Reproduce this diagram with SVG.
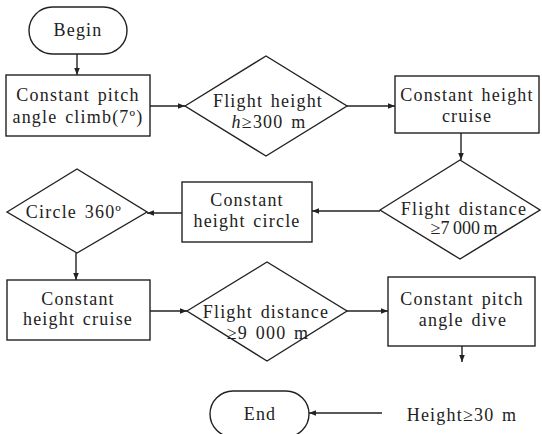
<svg xmlns="http://www.w3.org/2000/svg" width="542" height="434" viewBox="0 0 542 434">
<style>
.s{fill:#fff;stroke:#222;stroke-width:1.4}
.t{font-family:"Liberation Serif","Times New Roman",serif;font-size:18px;letter-spacing:1.2px;word-spacing:2px;fill:#222;text-anchor:middle}
.n{letter-spacing:0;word-spacing:-1px}
.c{fill:none;stroke:#222;stroke-width:1.4}
</style>
<defs>
<marker id="a" viewBox="0 0 10 10" refX="10" refY="5" markerWidth="7" markerHeight="7" orient="auto" markerUnits="userSpaceOnUse">
<path d="M0,1 L10,5 L0,9 Z" fill="#222"/>
</marker>
</defs>
<rect width="542" height="434" fill="#fff"/>
<g id="connectors">
<line class="c" x1="77" y1="54" x2="77" y2="75" marker-end="url(#a)"/>
<line class="c" x1="150" y1="106" x2="185" y2="106" marker-end="url(#a)"/>
<line class="c" x1="347" y1="106" x2="395" y2="106" marker-end="url(#a)"/>
<line class="c" x1="461" y1="133" x2="461" y2="160" marker-end="url(#a)"/>
<line class="c" x1="380" y1="211" x2="312" y2="211" marker-end="url(#a)"/>
<line class="c" x1="182" y1="213" x2="147" y2="213" marker-end="url(#a)"/>
<line class="c" x1="76" y1="253" x2="76" y2="280" marker-end="url(#a)"/>
<line class="c" x1="150" y1="311" x2="187" y2="311" marker-end="url(#a)"/>
<line class="c" x1="347" y1="311" x2="388" y2="311" marker-end="url(#a)"/>
<line class="c" x1="462" y1="346" x2="462" y2="362" marker-end="url(#a)"/>
<line class="c" x1="382" y1="413" x2="309" y2="413" marker-end="url(#a)"/>
</g>
<g id="begin">
<rect class="s" x="29" y="7" width="98" height="47" rx="23.5"/>
<text class="t" x="78" y="36">Begin</text>
</g>
<g id="climb">
<rect class="s" x="6" y="75" width="144" height="61"/>
<text class="t" x="78" y="101">Constant pitch</text>
<text class="t" x="78" y="123">angle climb(7º)</text>
</g>
<g id="check-height">
<polygon class="s" points="185,106 266,56 347,106 266,156"/>
<text class="t" x="268" y="107">Flight height</text>
<text class="t" x="269" y="128"><tspan font-style="italic">h</tspan>≥300 m</text>
</g>
<g id="cruise1">
<rect class="s" x="395" y="76" width="144" height="57"/>
<text class="t" x="467" y="101">Constant height</text>
<text class="t" x="467" y="122">cruise</text>
</g>
<g id="check-7000">
<polygon class="s" points="380,210 460,160 540,210 460,259"/>
<text class="t" x="464" y="215">Flight distance</text>
<text class="t n" x="464" y="234">≥7 000 m</text>
</g>
<g id="circle">
<rect class="s" x="182" y="182" width="130" height="60"/>
<text class="t" x="247" y="206">Constant</text>
<text class="t" x="247" y="227">height circle</text>
</g>
<g id="check-360">
<polygon class="s" points="7,212 77,169 147,212 77,253"/>
<text class="t" x="74" y="218">Circle 360º</text>
</g>
<g id="cruise2">
<rect class="s" x="7" y="280" width="143" height="60"/>
<text class="t" x="78" y="305">Constant</text>
<text class="t" x="78" y="325">height cruise</text>
</g>
<g id="check-9000">
<polygon class="s" points="187,311 267,262 347,311 267,361"/>
<text class="t" x="266" y="318">Flight distance</text>
<text class="t" x="268" y="339">≥9 000 m</text>
</g>
<g id="dive">
<rect class="s" x="388" y="277" width="147" height="69"/>
<text class="t" x="462" y="305">Constant pitch</text>
<text class="t" x="463" y="326">angle dive</text>
</g>
<g id="end">
<rect class="s" x="210" y="391" width="99" height="46" rx="23"/>
<text class="t" x="260" y="420">End</text>
</g>
<g id="height-label">
<text class="t" x="462" y="421">Height≥30 m</text>
</g>
</svg>
